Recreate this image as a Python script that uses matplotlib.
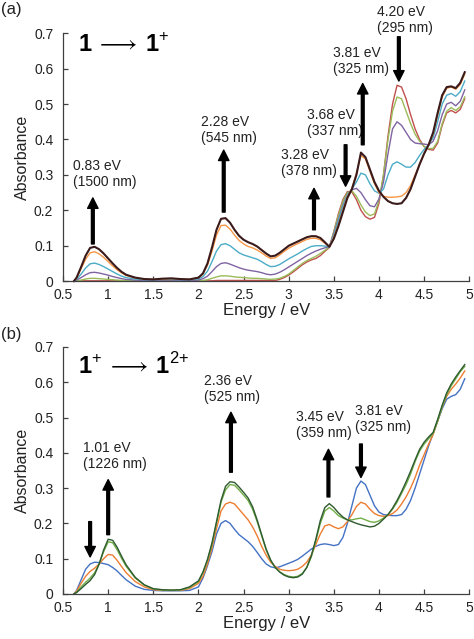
import matplotlib.pyplot as plt
from matplotlib.ticker import FormatStrFormatter, MultipleLocator

plt.rcParams['font.family'] = ['Liberation Sans', 'DejaVu Sans']
plt.rcParams['mathtext.fontset'] = 'custom'
plt.rcParams['mathtext.rm'] = 'Liberation Sans'
plt.rcParams['mathtext.bf'] = 'Liberation Sans:bold'

# Energy grid (eV) shared by all spectra
energy = [0.62, 0.65, 0.70, 0.75, 0.80, 0.85, 0.90, 0.95, 1.00, 1.05, 1.10, 1.15, 1.20,
          1.3, 1.4, 1.5, 1.6, 1.7, 1.8, 1.9, 2.0,
          2.05, 2.10, 2.15, 2.20, 2.25, 2.30, 2.35, 2.40, 2.45, 2.50, 2.55, 2.60, 2.65, 2.70, 2.75, 2.80,
          2.85, 2.90, 2.95, 3.00, 3.05, 3.10, 3.15, 3.20, 3.25, 3.30, 3.35, 3.40, 3.45,
          3.50, 3.55, 3.60, 3.65, 3.70, 3.75, 3.80, 3.85, 3.90, 3.95, 4.00, 4.05, 4.10, 4.15, 4.20,
          4.25, 4.30, 4.35, 4.40, 4.45, 4.50, 4.55, 4.60, 4.65, 4.70, 4.75, 4.80, 4.85, 4.90, 4.95]

# (a) 1 -> 1+ titration, first to last spectrum
a_red = [0.0, 0.0, 0.001, 0.001, 0.001, 0.001, 0.001, 0.001, 0.001, 0.001, 0.001, 0.001, 0.001,
         0.001, 0.001, 0.001, 0.001, 0.001, 0.001, 0.001, 0.001,
         0.001, 0.001, 0.001, 0.002, 0.002, 0.002, 0.002, 0.002, 0.002, 0.002, 0.002, 0.002, 0.002, 0.002, 0.002, 0.002,
         0.002, 0.005, 0.01, 0.017, 0.026, 0.036, 0.046, 0.054, 0.06, 0.064, 0.072, 0.084, 0.095,
         0.14, 0.19, 0.23, 0.253, 0.252, 0.23, 0.2, 0.182, 0.175, 0.18, 0.22, 0.3, 0.41, 0.5, 0.553,
         0.548, 0.515, 0.47, 0.43, 0.4, 0.38, 0.372, 0.37, 0.39, 0.44, 0.475, 0.482, 0.475, 0.485, 0.515]
a_green = [0.0, 0.001, 0.003, 0.006, 0.008, 0.008, 0.007, 0.006, 0.005, 0.004, 0.003, 0.002, 0.002,
           0.001, 0.001, 0.001, 0.001, 0.001, 0.001, 0.001, 0.001,
           0.002, 0.004, 0.008, 0.012, 0.015, 0.015, 0.014, 0.012, 0.011, 0.01, 0.009, 0.008, 0.008, 0.007, 0.006, 0.005,
           0.006, 0.008, 0.013, 0.02, 0.03, 0.04, 0.05, 0.058, 0.064, 0.07, 0.078, 0.087, 0.096,
           0.14, 0.185, 0.225, 0.25, 0.255, 0.24, 0.215, 0.195, 0.185, 0.19, 0.228, 0.3, 0.4, 0.48, 0.52,
           0.515, 0.48, 0.445, 0.415, 0.395, 0.38, 0.374, 0.375, 0.395, 0.445, 0.48, 0.49, 0.482, 0.492, 0.52]
a_purple = [0.0, 0.003, 0.01, 0.018, 0.024, 0.025, 0.023, 0.02, 0.017, 0.013, 0.01, 0.007, 0.005,
            0.003, 0.002, 0.002, 0.003, 0.003, 0.002, 0.002, 0.003,
            0.007, 0.014, 0.027, 0.041, 0.05, 0.052, 0.048, 0.043, 0.038, 0.034, 0.031, 0.029, 0.027, 0.024, 0.02, 0.018,
            0.02, 0.025, 0.032, 0.04, 0.048, 0.056, 0.064, 0.072, 0.079, 0.085, 0.09, 0.094, 0.097,
            0.135, 0.175, 0.215, 0.245, 0.258, 0.262, 0.25, 0.23, 0.213, 0.21, 0.232, 0.28, 0.36, 0.43, 0.45,
            0.44, 0.42, 0.4, 0.39, 0.388, 0.387, 0.385, 0.395, 0.425, 0.47, 0.5, 0.505, 0.495, 0.508, 0.54]
a_cyan = [0.0, 0.005, 0.02, 0.037, 0.049, 0.051, 0.047, 0.041, 0.034, 0.027, 0.02, 0.014, 0.01,
          0.006, 0.004, 0.004, 0.005, 0.005, 0.004, 0.004, 0.006,
          0.013, 0.028, 0.055, 0.085, 0.103, 0.106, 0.1, 0.09, 0.08, 0.074, 0.07, 0.066, 0.062, 0.055, 0.047, 0.041,
          0.042, 0.047, 0.055, 0.063, 0.07, 0.077, 0.085, 0.092, 0.098, 0.1, 0.1, 0.099, 0.097,
          0.13, 0.17, 0.21, 0.245, 0.26, 0.28, 0.305, 0.3, 0.275, 0.255, 0.248, 0.26, 0.3, 0.33, 0.337,
          0.33, 0.322, 0.322, 0.335, 0.355, 0.372, 0.385, 0.405, 0.45, 0.5, 0.525, 0.53, 0.522, 0.535, 0.565]
a_orange = [0.0, 0.008, 0.035, 0.062, 0.08, 0.083, 0.077, 0.067, 0.055, 0.043, 0.032, 0.023, 0.016,
            0.009, 0.006, 0.005, 0.006, 0.007, 0.006, 0.005, 0.009,
            0.02, 0.045, 0.085, 0.13, 0.157, 0.158, 0.147, 0.13, 0.115, 0.105, 0.098, 0.094, 0.088, 0.08, 0.071, 0.064,
            0.066, 0.074, 0.084, 0.093, 0.1, 0.106, 0.112, 0.118, 0.121, 0.121, 0.117, 0.107, 0.097,
            0.125, 0.16, 0.2, 0.24, 0.262, 0.305, 0.355, 0.345, 0.31, 0.275, 0.25, 0.24, 0.237, 0.237, 0.238,
            0.24, 0.25, 0.27, 0.3, 0.33, 0.36, 0.385, 0.415, 0.47, 0.52, 0.545, 0.548, 0.542, 0.555, 0.585]
a_final = [0.0, 0.01, 0.04, 0.072, 0.094, 0.097, 0.09, 0.078, 0.064, 0.05, 0.037, 0.026, 0.018,
           0.01, 0.006, 0.005, 0.007, 0.008, 0.006, 0.005, 0.01,
           0.022, 0.05, 0.095, 0.145, 0.176, 0.178, 0.165, 0.145, 0.128, 0.117, 0.11, 0.105, 0.098, 0.088, 0.078, 0.07,
           0.072, 0.08, 0.09, 0.1, 0.106, 0.112, 0.118, 0.124, 0.127, 0.127, 0.122, 0.11, 0.097,
           0.12, 0.155, 0.195, 0.235, 0.26, 0.3, 0.363, 0.35, 0.315, 0.28, 0.255, 0.238, 0.226, 0.22, 0.218,
           0.22, 0.235, 0.26, 0.295, 0.33, 0.36, 0.385, 0.42, 0.475, 0.525, 0.548, 0.55, 0.545, 0.56, 0.59]

# (b) 1+ -> 12+ titration, first to last spectrum
b_blue = [0.0, 0.01, 0.04, 0.07, 0.085, 0.09, 0.089, 0.086, 0.083, 0.075, 0.065, 0.052, 0.04,
          0.022, 0.013, 0.01, 0.009, 0.009, 0.009, 0.01, 0.02,
          0.045, 0.08, 0.12, 0.17, 0.2, 0.208, 0.2, 0.183, 0.168, 0.158, 0.148, 0.135, 0.118, 0.1, 0.085, 0.077,
          0.074, 0.077, 0.082, 0.087, 0.092, 0.098, 0.107, 0.117, 0.127, 0.135, 0.14, 0.142, 0.14,
          0.137, 0.14, 0.16, 0.2, 0.25, 0.3, 0.32, 0.31, 0.28, 0.25, 0.232, 0.225, 0.223, 0.222, 0.222,
          0.225, 0.24, 0.265, 0.3, 0.34, 0.38, 0.42, 0.455, 0.49, 0.525, 0.552, 0.56, 0.565, 0.58, 0.61]
b_orange = [0.0, 0.008, 0.03, 0.05, 0.064, 0.073, 0.085, 0.1, 0.112, 0.11, 0.095, 0.077, 0.06,
            0.035, 0.02, 0.012, 0.01, 0.01, 0.01, 0.015, 0.03,
            0.05, 0.085, 0.13, 0.185, 0.235, 0.255, 0.26, 0.255, 0.24, 0.225, 0.21, 0.19, 0.165, 0.135, 0.11, 0.09,
            0.078, 0.07, 0.067, 0.066, 0.067, 0.07, 0.078, 0.09, 0.11, 0.14, 0.17, 0.193, 0.197,
            0.19, 0.185, 0.19, 0.205, 0.225, 0.248, 0.26, 0.255, 0.24, 0.228, 0.222, 0.22, 0.222, 0.228, 0.238,
            0.255, 0.275, 0.3, 0.33, 0.365, 0.395, 0.425, 0.452, 0.49, 0.53, 0.56, 0.58, 0.595, 0.612, 0.632]
b_green = [0.0, 0.005, 0.02, 0.033, 0.045, 0.06, 0.085, 0.12, 0.148, 0.145, 0.125, 0.1, 0.078,
           0.045, 0.025, 0.014, 0.011, 0.01, 0.011, 0.018, 0.035,
           0.06, 0.095, 0.14, 0.2, 0.26, 0.295, 0.31, 0.308, 0.295, 0.28, 0.265, 0.24, 0.205, 0.165, 0.125, 0.095,
           0.075, 0.063, 0.055, 0.05, 0.048, 0.05, 0.058, 0.075, 0.105, 0.15, 0.2, 0.235, 0.245,
           0.235, 0.222, 0.215, 0.21, 0.21, 0.213, 0.215, 0.21, 0.205, 0.203, 0.207, 0.215, 0.225, 0.24, 0.26,
           0.285, 0.31, 0.34, 0.375, 0.405, 0.425, 0.44, 0.455, 0.49, 0.53, 0.565, 0.59, 0.61, 0.63, 0.645]
b_final = [0.0, 0.004, 0.015, 0.027, 0.038, 0.055, 0.085, 0.125, 0.155, 0.152, 0.132, 0.106, 0.082,
           0.047, 0.026, 0.015, 0.012, 0.011, 0.012, 0.02, 0.037,
           0.062, 0.098, 0.145, 0.205, 0.265, 0.305, 0.318, 0.316, 0.303, 0.288, 0.272, 0.247, 0.21, 0.168, 0.127, 0.096,
           0.075, 0.062, 0.053, 0.048, 0.046, 0.048, 0.056, 0.075, 0.108, 0.155, 0.208, 0.245, 0.256,
           0.245, 0.23, 0.218, 0.21, 0.205, 0.2, 0.196, 0.193, 0.19, 0.192, 0.2, 0.212, 0.225, 0.243, 0.265,
           0.29, 0.318, 0.348, 0.38, 0.41, 0.43, 0.445, 0.458, 0.495, 0.535, 0.57, 0.595, 0.615, 0.633, 0.65]

series_a = [(a_red, "#C0504D", 1.0), (a_green, "#9BBB59", 1.0), (a_purple, "#8064A2", 1.0),
            (a_cyan, "#4BACC6", 1.0), (a_orange, "#F79646", 1.0), (a_final, "#3A1A1A", 1.5)]
series_b = [(b_blue, "#4472C4", 1.0), (b_orange, "#ED7D31", 1.0),
            (b_green, "#70AD47", 1.0), (b_final, "#2E5A30", 1.0)]

# annotation labels: (x of arrow, y start, y end, label, text x, text y)
arrows_a = [(0.83, 0.105, 0.235, "0.83 eV\n(1500 nm)", 0.61, 0.26),
            (2.28, 0.195, 0.37, "2.28 eV\n(545 nm)", 2.03, 0.385),
            (3.28, 0.145, 0.262, "3.28 eV\n(378 nm)", 2.92, 0.29),
            (3.63, 0.385, 0.268, "3.68 eV\n(337 nm)", 3.2, 0.405),
            (3.82, 0.385, 0.558, "3.81 eV\n(325 nm)", 3.49, 0.58),
            (4.22, 0.69, 0.565, "4.20 eV\n(295 nm)", 3.98, 0.695)]
arrows_b = [(0.8, 0.205, 0.105, "", 0, 0),
            (1.0, 0.168, 0.324, "1.01 eV\n(1226 nm)", 0.72, 0.348),
            (2.36, 0.345, 0.515, "2.36 eV\n(525 nm)", 2.06, 0.537),
            (3.44, 0.275, 0.41, "3.45 eV\n(359 nm)", 3.08, 0.436),
            (3.8, 0.425, 0.33, "3.81 eV\n(325 nm)", 3.73, 0.452)]

fig = plt.figure(figsize=(4.74, 6.39), dpi=100)
ax_a = fig.add_axes([0.133, 0.560, 0.857, 0.388])
ax_b = fig.add_axes([0.133, 0.0705, 0.857, 0.3865])


def style_axes(ax):
    ax.set_xlim(0.5, 5)
    ax.set_ylim(0, 0.7)
    ax.xaxis.set_major_locator(MultipleLocator(0.5))
    ax.yaxis.set_major_locator(MultipleLocator(0.1))
    ax.xaxis.set_major_formatter(FormatStrFormatter("%g"))
    ax.yaxis.set_major_formatter(lambda v, p: "0" if abs(v) < 1e-9 else f"{v:.1f}")
    ax.spines["top"].set_visible(False)
    ax.spines["right"].set_visible(False)
    for s in ["left", "bottom"]:
        ax.spines[s].set_color("#404040")
        ax.spines[s].set_linewidth(0.9)
    ax.tick_params(direction="in", length=3.5, width=0.9, color="#404040",
                   labelsize=10, labelcolor="#222222")
    ax.tick_params(axis="x", pad=5)
    ax.tick_params(axis="y", pad=7)
    ax.set_xlabel("Energy / eV", fontsize=12, color="#222222", labelpad=1)
    ax.set_ylabel("Absorbance", fontsize=11.5, color="#222222", labelpad=3)


for ax, series, arrows in [(ax_a, series_a, arrows_a), (ax_b, series_b, arrows_b)]:
    for vals, col, lw in series:
        ax.plot(energy, vals, color=col, lw=lw, clip_on=False)
    style_axes(ax)
    for x, y0, y1, lab, tx, ty in arrows:
        ax.annotate("", xy=(x, y1), xytext=(x, y0),
                    arrowprops=dict(facecolor="black", edgecolor="black", width=2.0,
                                    headwidth=7.5, headlength=7.5, shrink=0))
        if lab:
            ax.text(tx, ty, lab, fontsize=10, color="#222222", ha="left", va="bottom",
                    linespacing=1.2, clip_on=False)

ax_a.text(0.67, 0.665, r"$\mathbf{1}\,\longrightarrow\,\mathbf{1}^{+}$",
          fontsize=17, va="center", ha="left")
ax_b.text(0.67, 0.645, r"$\mathbf{1}^{+}\,\longrightarrow\,\mathbf{1}^{2\!+}$",
          fontsize=17, va="center", ha="left")

fig.text(0.002, 0.985, "(a)", fontsize=12, va="center", ha="left", color="#222222")
fig.text(0.002, 0.476, "(b)", fontsize=12, va="center", ha="left", color="#222222")

fig.savefig("out.png", dpi=100)
